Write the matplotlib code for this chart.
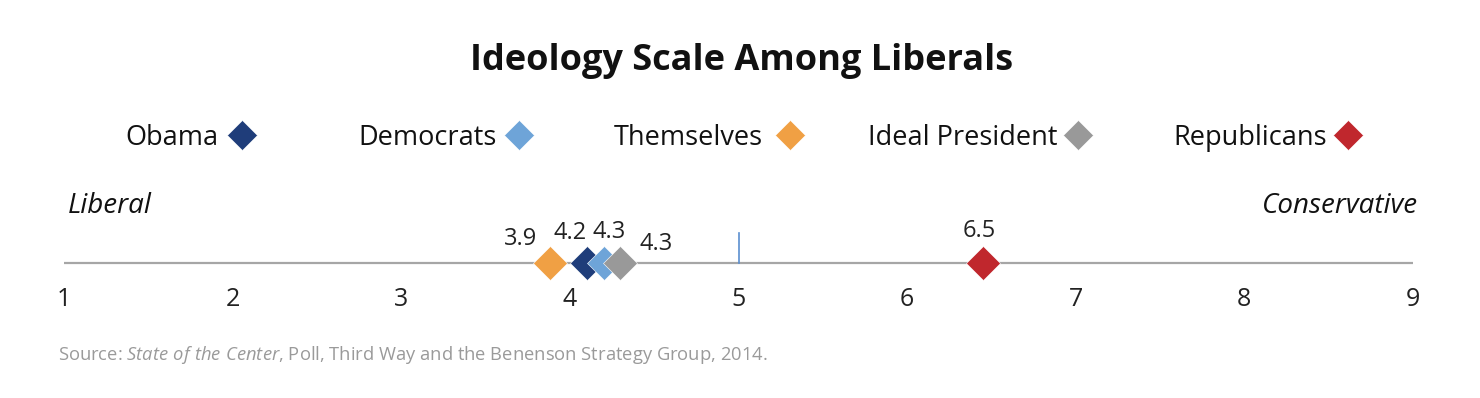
import matplotlib.pyplot as plt
from matplotlib.lines import Line2D

plt.rcParams['font.family'] = ['Open Sans', 'DejaVu Sans']
plt.rcParams['mathtext.fontset'] = 'custom'
plt.rcParams['mathtext.rm'] = 'Open Sans'
plt.rcParams['mathtext.it'] = 'Open Sans:italic'

# data
groups = ['Obama', 'Democrats', 'Themselves', 'Ideal President', 'Republicans']
colors = ['#1f3d7a', '#6ea4d8', '#f0a044', '#999999', '#c0272d']
positions = [4.10, 4.20, 3.88, 4.30, 6.45]
value_labels = ['4.2', '4.3', '3.9', '4.3', '6.5']
ticks = [1, 2, 3, 4, 5, 6, 7, 8, 9]

# label placement (x offset in scale units, y in pixels)
label_dx = [-0.10, 0.03, -0.17, 0.21, -0.02]
label_y = [233, 232, 239, 244, 231]
draw_order = [2, 0, 1, 3, 4]

fig = plt.figure(figsize=(14.8, 3.98), dpi=100)
ax = fig.add_axes([64 / 1480, 0, 1349 / 1480, 1])
ax.set_xlim(1, 9)
ax.set_ylim(398, 0)
ax.axis('off')

line_y = 263
ax.plot([1, 9], [line_y, line_y], color='#a6a6a6', lw=1.6, zorder=1)
ax.plot([5, 5], [233, line_y], color='#5b8fd0', lw=1.2, zorder=1)

for t in ticks:
    ax.text(t, 299, str(t), ha='center', va='center', fontsize=18, color='#222222')

for i in draw_order:
    ax.plot(positions[i], line_y, marker='D', ms=17.5, color=colors[i],
            markeredgecolor='white', markeredgewidth=0.4, zorder=3)
    ax.text(positions[i] + label_dx[i], label_y[i], value_labels[i],
            ha='center', va='center', fontsize=17, color='#222222')

ax.text(1.02, 206, 'Liberal', ha='left', va='center', fontsize=20,
        style='italic', color='#111111')
ax.text(9.03, 206, 'Conservative', ha='right', va='center', fontsize=20,
        style='italic', color='#111111')

# title
fig.text(742 / 1480, 1 - 61 / 398, 'Ideology Scale Among Liberals', ha='center',
         va='center', fontsize=26, fontweight='bold', color='#111111')

# legend: text followed by a diamond
legend_text_x = [125, 358, 614, 868, 1173]
legend_marker_x = [242, 519, 790, 1078, 1348]
for i, g in enumerate(groups):
    fig.text(legend_text_x[i] / 1480, 1 - 138 / 398, g, ha='left', va='center',
             fontsize=19.5, color='#111111')
    fig.add_artist(Line2D([legend_marker_x[i] / 1480], [1 - 135 / 398],
                          marker='D', ms=15, color=colors[i],
                          markeredgecolor='white', markeredgewidth=0.4,
                          transform=fig.transFigure))

fig.text(58 / 1480, 1 - 355 / 398,
         'Source: $\\it{State\\ of\\ the\\ Center}$, Poll, Third Way and the Benenson Strategy Group, 2014.',
         ha='left', va='center', fontsize=13.2, color='#9a9a9a')

fig.savefig('out.png', dpi=100, facecolor='white')
